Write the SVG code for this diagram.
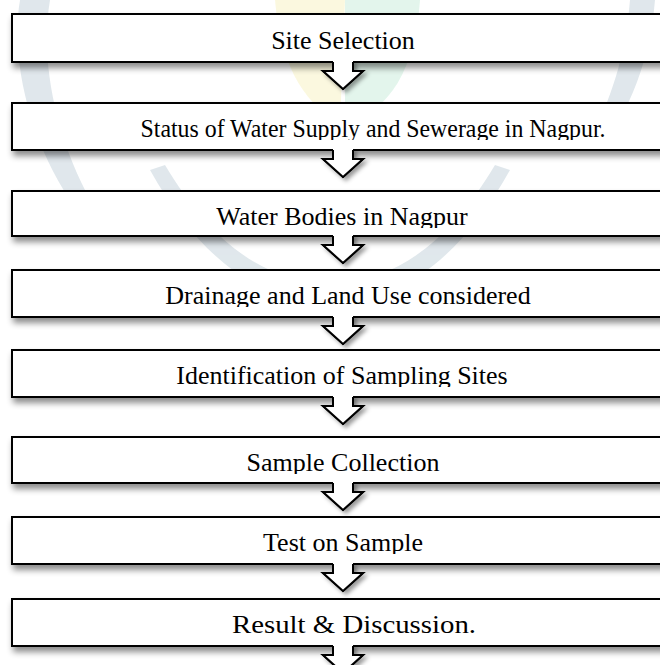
<svg xmlns="http://www.w3.org/2000/svg" width="660" height="665" viewBox="0 0 660 665">
<defs>
<style>
.box{fill:#fff;stroke:#000;stroke-width:2}
.lbl{font-family:"Liberation Serif","Times New Roman",serif;font-size:26px;fill:#000;text-anchor:middle}
.afill{fill:#fff;stroke:none}
.aline{fill:none;stroke:#000;stroke-width:2;stroke-linejoin:miter}
.wm{fill:#dde5ea}
</style>
<filter id="sh" x="-5%" y="-30%" width="110%" height="180%">
<feDropShadow dx="2" dy="5" stdDeviation="3" flood-color="#000" flood-opacity="0.45"/>
</filter>
<filter id="ash" x="-50%" y="-50%" width="200%" height="200%">
<feDropShadow dx="3" dy="3" stdDeviation="2" flood-color="#000" flood-opacity="0.4"/>
</filter>
<g id="arrow">
<path class="afill" d="M333,-2 V9 H323 L343,27 L363,9 H353 V-2 Z"/>
<path class="aline" d="M333,0 V9 H323 L343,27 L363,9 H353 V0"/>
</g>
<clipPath id="c1"><rect x="12" y="14" width="660" height="38"/></clipPath>
<clipPath id="c2"><rect x="12" y="103" width="660" height="37"/></clipPath>
<clipPath id="c3"><rect x="12" y="191" width="660" height="37"/></clipPath>
<clipPath id="c4"><rect x="12" y="270" width="660" height="37"/></clipPath>
<clipPath id="c5"><rect x="12" y="350" width="660" height="37"/></clipPath>
<clipPath id="c6"><rect x="12" y="437" width="660" height="37"/></clipPath>
<clipPath id="c7"><rect x="12" y="517" width="660" height="37"/></clipPath>
<clipPath id="c8"><rect x="12" y="599" width="660" height="37"/></clipPath>
</defs>
<rect width="660" height="665" fill="#fff"/>
<g id="watermark" opacity="0.9">
<path class="wm" d="M20,0 C10,60 30,140 70,200 L85,190 C55,130 40,60 50,0 Z"/>
<path class="wm" d="M630,0 C625,60 610,100 590,140 L600,150 C630,110 650,60 655,0 Z"/>
<path d="M275,0 C280,60 300,100 340,125 L345,0 Z" fill="#fbf8dc"/>
<path d="M345,0 L345,125 C390,110 415,70 420,0 Z" fill="#e0f5ea"/>
<path class="wm" d="M150,170 C200,260 260,300 330,310 C400,300 460,260 510,170 L495,165 C450,240 400,280 330,285 C260,280 210,240 165,165 Z"/>
</g>
<g id="connectors">
<use href="#arrow" transform="translate(0,62)" filter="url(#ash)"/>
<use href="#arrow" transform="translate(0,150)" filter="url(#ash)"/>
<use href="#arrow" transform="translate(0,236)" filter="url(#ash)"/>
<use href="#arrow" transform="translate(0,317)" filter="url(#ash)"/>
<use href="#arrow" transform="translate(0,397)" filter="url(#ash)"/>
<use href="#arrow" transform="translate(0,483)" filter="url(#ash)"/>
<use href="#arrow" transform="translate(0,564)" filter="url(#ash)"/>
<use href="#arrow" transform="translate(0,646)" filter="url(#ash)"/>
</g>
<g id="n1"><rect class="box" x="12" y="14" width="662" height="48" filter="url(#sh)"/><text class="lbl" x="343" y="49" clip-path="url(#c1)">Site Selection</text></g>
<g id="n2"><rect class="box" x="12" y="103" width="662" height="47" filter="url(#sh)"/><text class="lbl" x="373" y="137" textLength="465" lengthAdjust="spacingAndGlyphs" clip-path="url(#c2)">Status of Water Supply and Sewerage in Nagpur.</text></g>
<g id="n3"><rect class="box" x="12" y="191" width="662" height="45" filter="url(#sh)"/><text class="lbl" x="342" y="225" clip-path="url(#c3)">Water Bodies in Nagpur</text></g>
<g id="n4"><rect class="box" x="12" y="270" width="662" height="47" filter="url(#sh)"/><text class="lbl" x="348" y="304" clip-path="url(#c4)">Drainage and Land Use considered</text></g>
<g id="n5"><rect class="box" x="12" y="350" width="662" height="47" filter="url(#sh)"/><text class="lbl" x="342" y="384" clip-path="url(#c5)">Identification of Sampling Sites</text></g>
<g id="n6"><rect class="box" x="12" y="437" width="662" height="46" filter="url(#sh)"/><text class="lbl" x="343" y="471" clip-path="url(#c6)">Sample Collection</text></g>
<g id="n7"><rect class="box" x="12" y="517" width="662" height="47" filter="url(#sh)"/><text class="lbl" x="343" y="551" clip-path="url(#c7)">Test on Sample</text></g>
<g id="n8"><rect class="box" x="12" y="599" width="662" height="47" filter="url(#sh)"/><text class="lbl" x="354" y="633" textLength="244" lengthAdjust="spacingAndGlyphs" clip-path="url(#c8)">Result &amp; Discussion.</text></g>
<g id="connectors-top">
<use href="#arrow" transform="translate(0,62)"/>
<use href="#arrow" transform="translate(0,150)"/>
<use href="#arrow" transform="translate(0,236)"/>
<use href="#arrow" transform="translate(0,317)"/>
<use href="#arrow" transform="translate(0,397)"/>
<use href="#arrow" transform="translate(0,483)"/>
<use href="#arrow" transform="translate(0,564)"/>
<use href="#arrow" transform="translate(0,646)"/>
</g>
</svg>
